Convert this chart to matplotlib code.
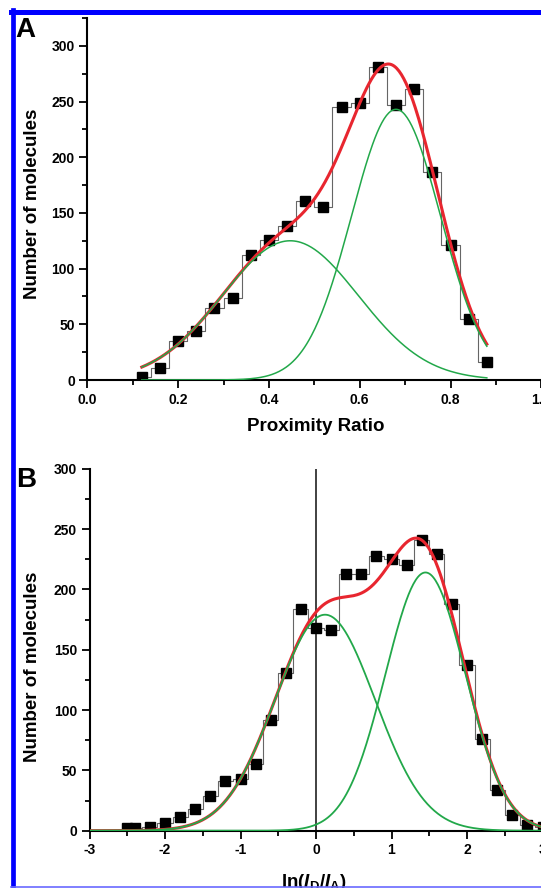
import numpy as np
import matplotlib
matplotlib.use("Agg")
import matplotlib.pyplot as plt
from matplotlib.ticker import MultipleLocator
from matplotlib.lines import Line2D

plt.rcParams['font.family'] = ['Liberation Sans', 'DejaVu Sans']
plt.rcParams['font.weight'] = 'bold'
plt.rcParams['axes.unicode_minus'] = False
plt.rcParams['mathtext.fontset'] = 'custom'
plt.rcParams['mathtext.rm'] = 'Liberation Sans:bold'
plt.rcParams['mathtext.it'] = 'Liberation Sans:italic:bold'
plt.rcParams['mathtext.bf'] = 'Liberation Sans:bold'

# --- panel A: proximity ratio histogram ---
pr_bins = [0.12, 0.16, 0.20, 0.24, 0.28, 0.32, 0.36, 0.40, 0.44, 0.48,
           0.52, 0.56, 0.60, 0.64, 0.68, 0.72, 0.76, 0.80, 0.84, 0.88]
pr_counts = [3, 11, 35, 44, 65, 74, 112, 126, 138, 161,
             155, 245, 249, 281, 247, 261, 187, 121, 55, 16]
# gaussian fit components: amplitude, centre, sigma
pr_amp = [125, 243]
pr_mu = [0.447, 0.68]
pr_sig = [0.15, 0.098]

# --- panel B: ln(ID/IA) histogram ---
ln_bins = [-2.5, -2.4, -2.2, -2.0, -1.8, -1.6, -1.4, -1.2, -1.0, -0.8,
           -0.6, -0.4, -0.2, 0.0, 0.2, 0.4, 0.6, 0.8, 1.0, 1.2,
           1.4, 1.6, 1.8, 2.0, 2.2, 2.4, 2.6, 2.8, 3.0]
ln_counts = [2, 2, 3, 6, 11, 18, 29, 41, 43, 55,
             92, 131, 184, 168, 166, 213, 213, 228, 225, 220,
             241, 229, 188, 137, 76, 34, 13, 5, 3]
ln_amp = [179, 214]
ln_mu = [0.12, 1.45]
ln_sig = [0.663, 0.53]

RED = '#e8262f'
GREEN = '#22a84a'


def gauss(x, a, mu, s):
    return a * np.exp(-(x - mu) ** 2 / (2 * s ** 2))


def style_axis(ax):
    for side in ['top', 'right']:
        ax.spines[side].set_visible(False)
    for side in ['left', 'bottom']:
        ax.spines[side].set_linewidth(1.5)
    ax.tick_params(which='major', direction='out', length=6, width=1.3,
                   labelsize=10, pad=3)
    ax.tick_params(which='minor', direction='out', length=3.5, width=1.3)


W, H = 541, 888
fig = plt.figure(figsize=(W / 100, H / 100), dpi=100)

# panel A
x0, sx = 87.3, 454.0
axA = fig.add_axes([x0 / W, 1 - 380 / H, 1.05 * sx / W, 362 / H])
axA.step(pr_bins, pr_counts, where='mid', color='#666666', lw=0.8, zorder=2)
axA.plot(pr_bins, pr_counts, 's', color='black', ms=7.6, zorder=3)
xa = np.linspace(pr_bins[0], pr_bins[-1], 300)
fitA = sum(gauss(xa, a, m, s) for a, m, s in zip(pr_amp, pr_mu, pr_sig))
axA.plot(xa, fitA, color=RED, lw=2.2, zorder=4)
for a, m, s in zip(pr_amp, pr_mu, pr_sig):
    axA.plot(xa, gauss(xa, a, m, s), color=GREEN, lw=1.1, zorder=5)
axA.set_xlim(0, 1.05)
axA.set_ylim(0, 325)
axA.xaxis.set_minor_locator(MultipleLocator(0.1))
axA.yaxis.set_major_locator(MultipleLocator(50))
axA.yaxis.set_minor_locator(MultipleLocator(25))
axA.set_xticks([0.0, 0.2, 0.4, 0.6, 0.8, 1.0])
axA.set_xticklabels(['0.0', '0.2', '0.4', '0.6', '0.8', '1.0'])
style_axis(axA)
axA.set_xlabel('Proximity Ratio', fontsize=13.5, fontweight='bold')
axA.set_ylabel('Number of molecules', fontsize=13.5, fontweight='bold')
axA.xaxis.set_label_coords((316 - x0) / (1.05 * sx), -0.106)
axA.yaxis.set_label_coords((40.7 - x0) / (1.05 * sx), 0.486)

# panel B
x0b, sxb = 89.5, 75.5
axB = fig.add_axes([x0b / W, 1 - 830.7 / H, 6.2 * sxb / W, 362 / H])
axB.axvline(0, color='#333333', lw=1.3, zorder=1)
axB.step(ln_bins, ln_counts, where='mid', color='#666666', lw=0.8, zorder=2)
axB.plot(ln_bins, ln_counts, 's', color='black', ms=7.6, zorder=3)
xb = np.linspace(-3, 3.2, 400)
fitB = sum(gauss(xb, a, m, s) for a, m, s in zip(ln_amp, ln_mu, ln_sig))
axB.plot(xb, fitB, color=RED, lw=2.2, zorder=4)
for a, m, s in zip(ln_amp, ln_mu, ln_sig):
    axB.plot(xb, gauss(xb, a, m, s), color=GREEN, lw=1.3, zorder=5)
axB.set_xlim(-3, 3.2)
axB.set_ylim(0, 300)
axB.xaxis.set_major_locator(MultipleLocator(1))
axB.xaxis.set_minor_locator(MultipleLocator(0.5))
axB.yaxis.set_major_locator(MultipleLocator(50))
axB.yaxis.set_minor_locator(MultipleLocator(25))
style_axis(axB)
axB.set_xlabel(r'ln($I_{\rm D}$/$I_{\rm A}$)', fontsize=13.5, fontweight='bold')
axB.set_ylabel('Number of molecules', fontsize=13.5, fontweight='bold')
axB.xaxis.set_label_coords((314 - x0b) / (6.2 * sxb), -0.113)
axB.yaxis.set_label_coords((40.7 - x0b) / (6.2 * sxb), 0.452)

# panel letters
fig.text(15 / W, 1 - 37 / H, 'A', fontsize=20, fontweight='bold', va='baseline')
fig.text(16 / W, 1 - 487 / H, 'B', fontsize=20, fontweight='bold', va='baseline')

# blue frame
fig.add_artist(Line2D([13.3 / W, 13.3 / W], [0, 1 - 10 / H], color='#0000ff',
                      lw=3.4, transform=fig.transFigure))
fig.add_artist(Line2D([11 / W, 1], [1 - 12.5 / H, 1 - 12.5 / H], color='#0000ff',
                      lw=3.6, transform=fig.transFigure))
fig.add_artist(Line2D([11 / W, 1], [1 - 886.5 / H, 1 - 886.5 / H], color='#6a6aff',
                      lw=1.2, transform=fig.transFigure))

fig.savefig('out.png', dpi=100)
